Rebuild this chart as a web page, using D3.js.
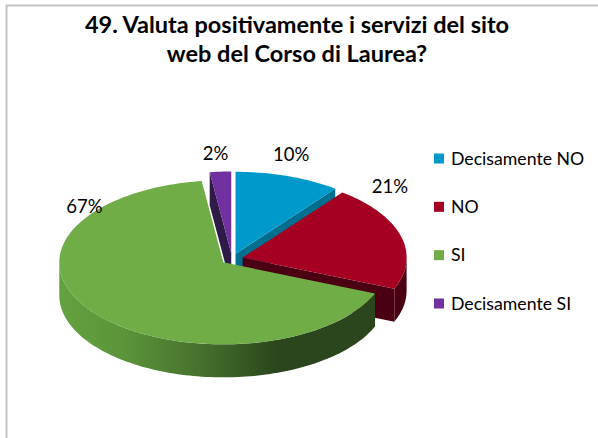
<!DOCTYPE html>
<html>
<head>
<meta charset="utf-8">
<script src="https://cdn.jsdelivr.net/npm/d3@7"></script>
<style>
  body { margin: 0; background: #fff; }
  svg { display: block; font-family: Lato, "Open Sans", sans-serif; }
</style>
</head>
<body>
<svg id="canvas" width="598" height="438"></svg>
<script>
// data
const categories = ["Decisamente NO", "NO", "SI", "Decisamente SI"];
const values = [10.4, 20.8, 66.7, 2.1];
const pctLabels = ["10%", "21%", "67%", "2%"];
const titleLines = ["49. Valuta positivamente i servizi del sito", "web del Corso di Laurea?"];

const topColors = ["#0099cc", "#a50021", "#70ad47", "#7030a0"];
const sideColors = ["#006e8f", "#4a0012", "url(#greenSide)", "#2e1a47"];

const svg = d3.select("#canvas");

// frame (only left and top edges fall inside the window)
svg.append("rect")
  .attr("x", 6.5).attr("y", 5.5)
  .attr("width", 700).attr("height", 600)
  .attr("fill", "none")
  .attr("stroke", "#c3c3c3")
  .attr("stroke-width", 2);

// title
svg.append("text")
  .attr("text-anchor", "middle")
  .attr("font-weight", "bold")
  .attr("font-size", 23.5)
  .attr("fill", "#000")
  .selectAll("tspan")
  .data(titleLines)
  .enter()
  .append("tspan")
  .attr("x", 297)
  .attr("y", (d, i) => 33 + i * 29)
  .text((d) => d);

// pie geometry
const cx = 232, cy = 259, rx = 164, ry = 82, depth = 33, explode = 11;

const defs = svg.append("defs");
const grad = defs.append("linearGradient")
  .attr("id", "greenSide")
  .attr("gradientUnits", "userSpaceOnUse")
  .attr("x1", 60).attr("x2", 380).attr("y1", 0).attr("y2", 0);
[[0, "#64a13f"], [0.2, "#5b943a"], [0.45, "#456f2d"], [0.68, "#2b451c"], [1, "#2b451c"]]
  .forEach(([o, c]) => grad.append("stop").attr("offset", o).attr("stop-color", c));

const pie = d3.pie().sort(null).value((d) => d);
const arcs = pie(values).map((a, i) => {
  const mid = (a.startAngle + a.endAngle) / 2;
  return {
    ...a,
    i,
    mid,
    ox: explode * Math.sin(mid),
    oy: -explode * Math.cos(mid) * (ry / rx),
  };
});

const pt = (s, t, dz) => [
  cx + s.ox + rx * Math.sin(t),
  cy + s.oy - ry * Math.cos(t) + dz,
];

const arcPoints = (s, a, b, dz) => {
  const n = Math.max(2, Math.ceil(Math.abs(b - a) * 40));
  return d3.range(n + 1).map((k) => pt(s, a + ((b - a) * k) / n, dz));
};

const line = d3.line();

const topPath = (s) => {
  const apex = [cx + s.ox, cy + s.oy];
  return line([apex, ...arcPoints(s, s.startAngle, s.endAngle, 0)]) + "Z";
};

const outerWall = (s) => {
  const a = Math.max(s.startAngle, Math.PI / 2);
  const b = Math.min(s.endAngle, Math.PI * 1.5);
  if (b <= a) return null;
  return line([...arcPoints(s, a, b, 0), ...arcPoints(s, b, a, depth)]) + "Z";
};

const radialWall = (s, t) => {
  const apex = [cx + s.ox, cy + s.oy];
  return line([
    apex,
    pt(s, t, 0),
    pt(s, t, depth),
    [apex[0], apex[1] + depth],
  ]) + "Z";
};

// paint back to front
const order = arcs.slice().sort((p, q) => -Math.cos(p.mid) - -Math.cos(q.mid));
const g = svg.append("g");

order.forEach((s) => {
  const sg = g.append("g");
  const walls = [];
  if (Math.sin(s.startAngle) < -1e-6) walls.push(radialWall(s, s.startAngle));
  if (Math.sin(s.endAngle) > 1e-6) walls.push(radialWall(s, s.endAngle));
  const ow = outerWall(s);
  if (ow) walls.push(ow);
  walls.forEach((d) => {
    sg.append("path").attr("d", d).attr("fill", sideColors[s.i]);
  });
  sg.append("path").attr("d", topPath(s)).attr("fill", topColors[s.i]);
});

// percentage labels: bisector rim point, nudged the way the original lays them out
const labelShift = [[3, -22], [-11, -50], [-9, -106], [-5, -18]];
svg.append("g")
  .selectAll("text")
  .data(arcs)
  .enter()
  .append("text")
  .attr("x", (s) => cx + (rx + explode) * Math.sin(s.mid) + labelShift[s.i][0])
  .attr("y", (s) => cy - (ry + explode / 2) * Math.cos(s.mid) + labelShift[s.i][1])
  .attr("dy", "0.35em")
  .attr("text-anchor", "middle")
  .attr("font-size", 18.5)
  .attr("fill", "#000")
  .text((s) => pctLabels[s.i]);

// legend
const legendY = d3.scalePoint().domain(categories).range([158.5, 303.5]);
const legend = svg.append("g")
  .selectAll("g")
  .data(categories)
  .enter()
  .append("g")
  .attr("transform", (d) => `translate(434,${legendY(d)})`);

legend.append("rect")
  .attr("x", 0).attr("y", -5)
  .attr("width", 10).attr("height", 10)
  .attr("fill", (d, i) => topColors[i]);

legend.append("text")
  .attr("x", 17)
  .attr("dy", "0.35em")
  .attr("font-size", 17.7)
  .attr("fill", "#000")
  .text((d) => d);
</script>
</body>
</html>
